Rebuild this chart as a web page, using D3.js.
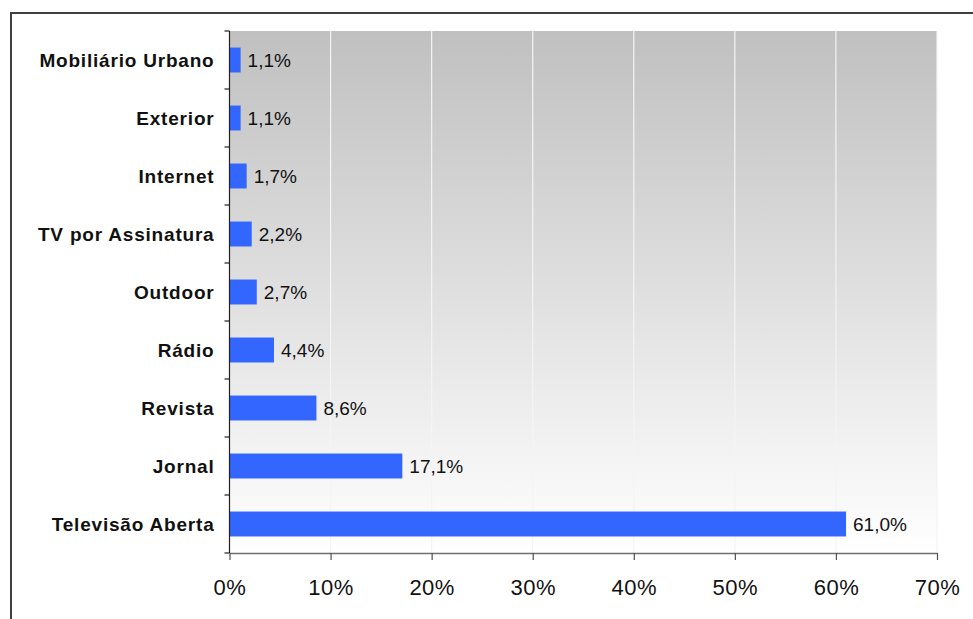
<!DOCTYPE html>
<html>
<head>
<meta charset="utf-8">
<script src="https://cdn.jsdelivr.net/npm/d3@7"></script>
<style>
  html, body { margin: 0; padding: 0; background: #fff; }
  svg { display: block; font-family: "Liberation Sans", Arial, sans-serif; }
</style>
</head>
<body>
<svg id="chart" width="973" height="619"></svg>
<script>
const categories = ["Mobiliário Urbano", "Exterior", "Internet", "TV por Assinatura", "Outdoor", "Rádio", "Revista", "Jornal", "Televisão Aberta"];
const shares = [1.1, 1.1, 1.7, 2.2, 2.7, 4.4, 8.6, 17.1, 61.0];
const xTicks = [0, 10, 20, 30, 40, 50, 60, 70];

const svg = d3.select("#chart");
const plotLeft = 229.5, plotRight = 937, plotTop = 31, plotBottom = 553;

// outer frame
svg.append("path")
  .attr("d", "M11,619 V13 H973")
  .attr("fill", "none")
  .attr("stroke", "#404040")
  .attr("stroke-width", 2);

const defs = svg.append("defs");
const grad = defs.append("linearGradient")
  .attr("id", "bg").attr("x1", 0).attr("y1", 0).attr("x2", 0).attr("y2", 1);
grad.append("stop").attr("offset", "0%").attr("stop-color", "#c0c0c0");
grad.append("stop").attr("offset", "100%").attr("stop-color", "#ffffff");

const x = d3.scaleLinear().domain([0, 70]).range([plotLeft, plotRight]);
const y = d3.scaleBand().domain(categories).range([plotTop, plotBottom]).paddingInner(0.57).paddingOuter(0.285);

svg.append("rect")
  .attr("x", plotLeft).attr("y", plotTop)
  .attr("width", plotRight - plotLeft).attr("height", plotBottom - plotTop)
  .attr("fill", "url(#bg)");

// gridlines
svg.append("g").selectAll("line")
  .data(xTicks.slice(1))
  .join("line")
  .attr("x1", d => x(d)).attr("x2", d => x(d))
  .attr("y1", plotTop).attr("y2", plotBottom)
  .attr("stroke", "#f4f4f4")
  .attr("stroke-width", 1.2);

// bars
svg.append("g").selectAll("rect")
  .data(shares)
  .join("rect")
  .attr("x", x(0))
  .attr("y", (d, i) => y(categories[i]))
  .attr("width", d => x(d) - x(0))
  .attr("height", y.bandwidth())
  .attr("fill", "#3366ff");

// value labels
svg.append("g").selectAll("text")
  .data(shares)
  .join("text")
  .attr("x", d => x(d) + 7)
  .attr("y", (d, i) => y(categories[i]) + y.bandwidth() / 2)
  .attr("dy", "0.36em")
  .attr("font-size", 19)
  .attr("fill", "#111")
  .text(d => d.toFixed(1).replace(".", ",") + "%");

// x axis
const xAxis = svg.append("g")
  .attr("transform", `translate(0,${plotBottom})`)
  .call(d3.axisBottom(x).tickValues(xTicks).tickFormat(d => d + "%").tickSize(7).tickSizeOuter(0));
xAxis.select(".domain").attr("stroke", "#707070").attr("stroke-width", 1.5);
xAxis.selectAll(".tick line").attr("stroke", "#505050").attr("stroke-width", 1.2);
xAxis.selectAll(".tick text")
  .attr("font-size", 22)
  .attr("letter-spacing", 0.5)
  .attr("font-family", "'Liberation Sans', Arial, sans-serif")
  .attr("fill", "#111")
  .attr("y", 26);

// y axis
const step = y.step();
const boundaries = d3.range(categories.length + 1).map(i => plotTop + i * step);
svg.append("line")
  .attr("x1", plotLeft).attr("x2", plotLeft)
  .attr("y1", plotTop).attr("y2", plotBottom)
  .attr("stroke", "#202020").attr("stroke-width", 1.2);
svg.append("g").selectAll("line")
  .data(boundaries)
  .join("line")
  .attr("x1", plotLeft - 5).attr("x2", plotLeft)
  .attr("y1", d => d).attr("y2", d => d)
  .attr("stroke", "#202020").attr("stroke-width", 1.2);

svg.append("g").selectAll("text")
  .data(categories)
  .join("text")
  .attr("x", plotLeft - 15)
  .attr("y", d => y(d) + y.bandwidth() / 2)
  .attr("dy", "0.36em")
  .attr("text-anchor", "end")
  .attr("font-size", 19)
  .attr("font-weight", "bold")
  .attr("letter-spacing", 0.8)
  .attr("fill", "#111")
  .text(d => d);
</script>
</body>
</html>
